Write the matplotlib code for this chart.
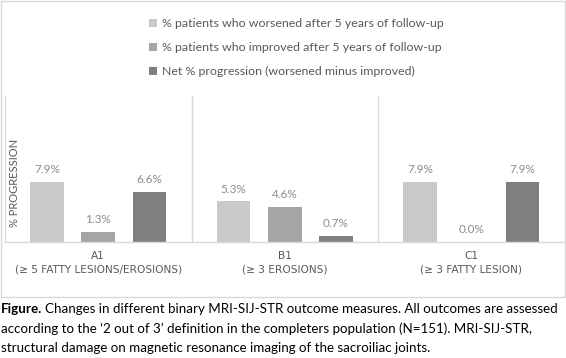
import matplotlib.pyplot as plt
import numpy as np
from matplotlib.patches import Rectangle, Patch

categories = ['A1', 'B1', 'C1']
subtitles = ['(≥ 5 FATTY LESIONS/EROSIONS)', '(≥ 3 EROSIONS)', '(≥ 3 FATTY LESION)']
worsened = [7.9, 5.3, 7.9]
improved = [1.3, 4.6, 0.0]
net = [6.6, 0.7, 7.9]
series_names = ['% patients who worsened after 5 years of follow-up',
                '% patients who improved after 5 years of follow-up',
                'Net % progression (worsened minus improved)']
colors = ['#c9c9c9', '#a5a5a5', '#7f7f7f']

W, H = 566, 358
fig = plt.figure(figsize=(W / 100, H / 100), dpi=100)
fig.patch.set_facecolor('white')

# chart frame
fig.patches.append(Rectangle((1 / W, 1 - 297 / H), 564 / W, 296 / H,
                             transform=fig.transFigure, fill=False,
                             edgecolor='#d9d9d9', linewidth=1))

ax = fig.add_axes([5 / W, 1 - 241.7 / H, 559.5 / W, 145.7 / H])
x = np.arange(len(categories))
width = 0.18
step = 0.274
for i, vals in enumerate([worsened, improved, net]):
    bars = ax.bar(x + (i - 1) * step, vals, width, color=colors[i])
    for b, v in zip(bars, vals):
        ax.annotate(f'{v:.1f}%', (b.get_x() + b.get_width() / 2, v),
                    xytext=(0, 5), textcoords='offset points',
                    ha='center', va='bottom', fontsize=8.5,
                    color='#8c8c8c', family='Lato')

ax.set_xlim(-0.5, 2.5)
ax.set_ylim(0, 7.9 * 145.7 / 60)
for s in ['top', 'right', 'bottom']:
    ax.spines[s].set_visible(False)
ax.spines['left'].set_color('#d9d9d9')
ax.axhline(0, color='#d9d9d9', linewidth=1, clip_on=False)
for sep in [0.5, 1.5]:
    ax.axvline(sep, color='#d9d9d9', linewidth=1)
ax.set_xticks([])
ax.set_yticks([])

for i, (c, s) in enumerate(zip(categories, subtitles)):
    ax.annotate(c, (i, 0), xytext=(0, -14.3 * 0.72), textcoords='offset points',
                ha='center', va='center', fontsize=7.6, color='#595959',
                family='DejaVu Sans')
    ax.annotate(s, (i, 0), xytext=(0, -27.5 * 0.72), textcoords='offset points',
                ha='center', va='center', fontsize=7.6, color='#595959',
                family='DejaVu Sans')

fig.text(15 / W, 1 - 183 / H, '% PROGRESSION', rotation=90, ha='center',
         va='center', fontsize=8, color='#595959', family='Lato')

handles = [Patch(facecolor=c, edgecolor='none') for c in colors]
leg = fig.legend(handles, series_names, loc='upper left',
                 bbox_to_anchor=(149 / W, 1 - 18 / H), frameon=False,
                 handlelength=0.62, handleheight=0.62,
                 handletextpad=0.45, labelspacing=1.05, borderaxespad=0,
                 borderpad=0, prop={'family': 'Lato', 'size': 8.9})
for t in leg.get_texts():
    t.set_color('#595959')

# caption
cap_kw = dict(fontsize=9.6, family='Lato', color='black', va='baseline')
bold = fig.text(1 / W, 1 - 313.3 / H, 'Figure.', fontweight='bold', **cap_kw)
fig.canvas.draw()
bb = bold.get_window_extent(fig.canvas.get_renderer())
fig.text(bb.x1 / W + 2.5 / W, 1 - 313.3 / H,
         'Changes in different binary MRI-SIJ-STR outcome measures. All outcomes are assessed',
         **cap_kw)
fig.text(1 / W, 1 - 333.3 / H,
         'according to the \u20182 out of 3\u2019 definition in the completers population (N=151). MRI-SIJ-STR,',
         **cap_kw)
fig.text(1 / W, 1 - 351.7 / H,
         'structural damage on magnetic resonance imaging of the sacroiliac joints.',
         **cap_kw)

fig.savefig('out.png', dpi=100)
